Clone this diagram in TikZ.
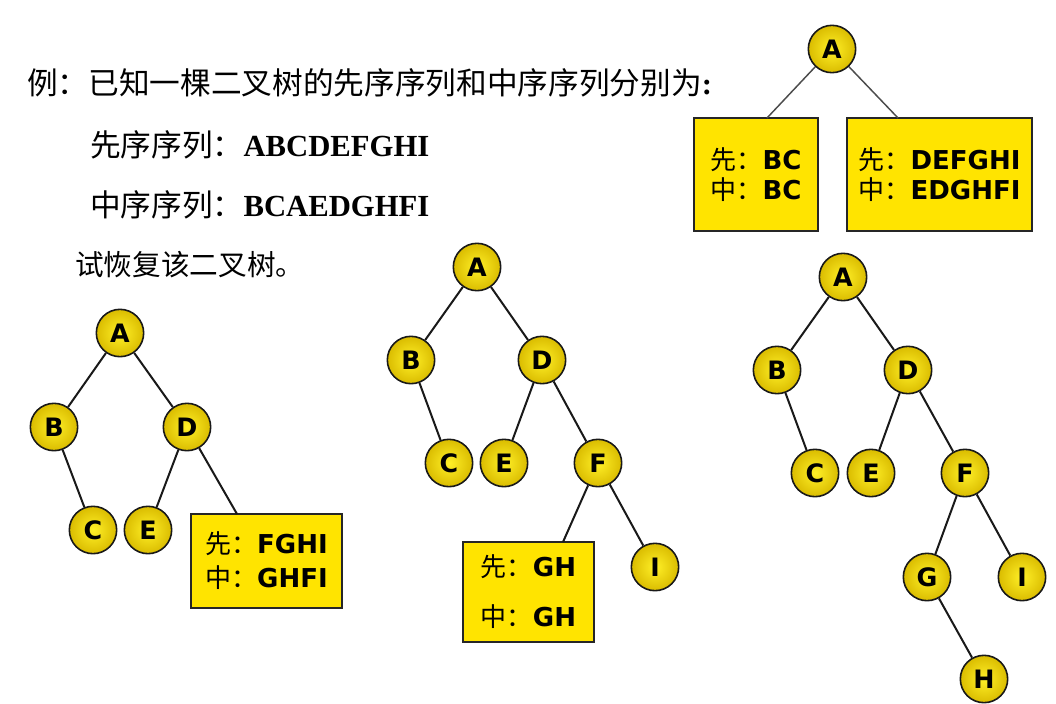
\documentclass[tikz,border=0pt]{standalone}
\usepackage{fontspec}
\setmainfont{Liberation Serif}
\newfontfamily\cjk{Noto Sans CJK SC}
\newfontfamily\vsans{DejaVu Sans}
\begin{document}
\begin{tikzpicture}[x=0.75pt,y=-0.75pt,
  tnode/.style={circle,minimum size=35.5pt,inner sep=0pt,draw=black!90,line width=1.2pt,
    inner color={rgb,255:red,255;green,240;blue,40},outer color={rgb,255:red,218;green,188;blue,0},
    font=\vsans\bfseries\fontsize{19}{19}\selectfont},
  infobox/.style={rectangle,draw=black!85,line width=1.1pt,fill={rgb,255:red,255;green,228;blue,0},
    inner sep=0pt,align=left},
  edge/.style={draw=black!90,line width=1.5pt},
  head/.style={anchor=west,inner sep=0pt,font=\fontsize{23}{23}\selectfont}
]
\fill[white] (0,0) rectangle (1056,701);

% heading text
\node[head] (h1) at (27,83) {{\cjk 例：已知一棵二叉树的先序序列和中序序列分别为}\textbf{:}};
\node[head] (h2) at (90,145) {{\cjk 先序序列：}\textbf{ABCDEFGHI}};
\node[head] (h3) at (90,205) {{\cjk 中序序列：}\textbf{BCAEDGHFI}};
\node[head,font=\fontsize{21.5}{21.5}\selectfont] (h4) at (75,265) {{\cjk 试恢复该二叉树。}};

% top tree
\node[tnode] (tA) at (832,49) {A};
\node[infobox,minimum width=93pt,minimum height=84.75pt,font=\fontsize{19.5}{22.5}\selectfont] (tb1) at (756,174.5)
  {{\cjk 先：}{\vsans\bfseries BC}\\{\cjk 中：}{\vsans\bfseries BC}};
\node[infobox,minimum width=138.75pt,minimum height=84.75pt,font=\fontsize{19.5}{22.5}\selectfont] (tb2) at (939.5,174.5)
  {{\cjk 先：}{\vsans\bfseries DEFGHI}\\{\cjk 中：}{\vsans\bfseries EDGHFI}};
\coordinate (tb1t) at (767,118);
\coordinate (tb2t) at (898,118);
\draw[edge,line width=1.1pt,draw=black!70] (tA) -- (tb1t);
\draw[edge,line width=1.1pt,draw=black!70] (tA) -- (tb2t);

% tree 1
\node[tnode] (aA) at (120,333) {A};
\node[tnode] (aB) at (54,427) {B};
\node[tnode] (aD) at (187,427) {D};
\node[tnode] (aC) at (93,530) {C};
\node[tnode] (aE) at (148,530) {E};
\node[infobox,minimum width=113.25pt,minimum height=70.5pt,font=\fontsize{19.5}{25.5}\selectfont] (ab) at (266.5,561)
  {{\cjk 先：}{\vsans\bfseries FGHI}\\{\cjk 中：}{\vsans\bfseries GHFI}};
\coordinate (abt) at (237,514);
\draw[edge] (aA) -- (aB);
\draw[edge] (aA) -- (aD);
\draw[edge] (aB) -- (aC);
\draw[edge] (aD) -- (aE);
\draw[edge] (aD) -- (abt);

% tree 2
\node[tnode] (bA) at (477,267) {A};
\node[tnode] (bB) at (411,360) {B};
\node[tnode] (bD) at (542,360) {D};
\node[tnode] (bC) at (449,463) {C};
\node[tnode] (bE) at (504,463) {E};
\node[tnode] (bF) at (598,463) {F};
\node[tnode] (bI) at (655,567) {I};
\node[infobox,minimum width=98.25pt,minimum height=75pt,font=\fontsize{19.5}{37.5}\selectfont] (bb) at (528.5,592)
  {{\cjk 先：}{\vsans\bfseries GH}\\{\cjk 中：}{\vsans\bfseries GH}};
\coordinate (bbt) at (563,542);
\draw[edge] (bA) -- (bB);
\draw[edge] (bA) -- (bD);
\draw[edge] (bB) -- (bC);
\draw[edge] (bD) -- (bE);
\draw[edge] (bD) -- (bF);
\draw[edge] (bF) -- (bbt);
\draw[edge] (bF) -- (bI);

% tree 3
\node[tnode] (cA) at (843,277) {A};
\node[tnode] (cB) at (777,370) {B};
\node[tnode] (cD) at (908,370) {D};
\node[tnode] (cC) at (815,473) {C};
\node[tnode] (cE) at (871,473) {E};
\node[tnode] (cF) at (965,473) {F};
\node[tnode] (cG) at (927,577) {G};
\node[tnode] (cI) at (1022,577) {I};
\node[tnode] (cH) at (984,679) {H};
\draw[edge] (cA) -- (cB);
\draw[edge] (cA) -- (cD);
\draw[edge] (cB) -- (cC);
\draw[edge] (cD) -- (cE);
\draw[edge] (cD) -- (cF);
\draw[edge] (cF) -- (cG);
\draw[edge] (cF) -- (cI);
\draw[edge] (cG) -- (cH);
\end{tikzpicture}
\end{document}
